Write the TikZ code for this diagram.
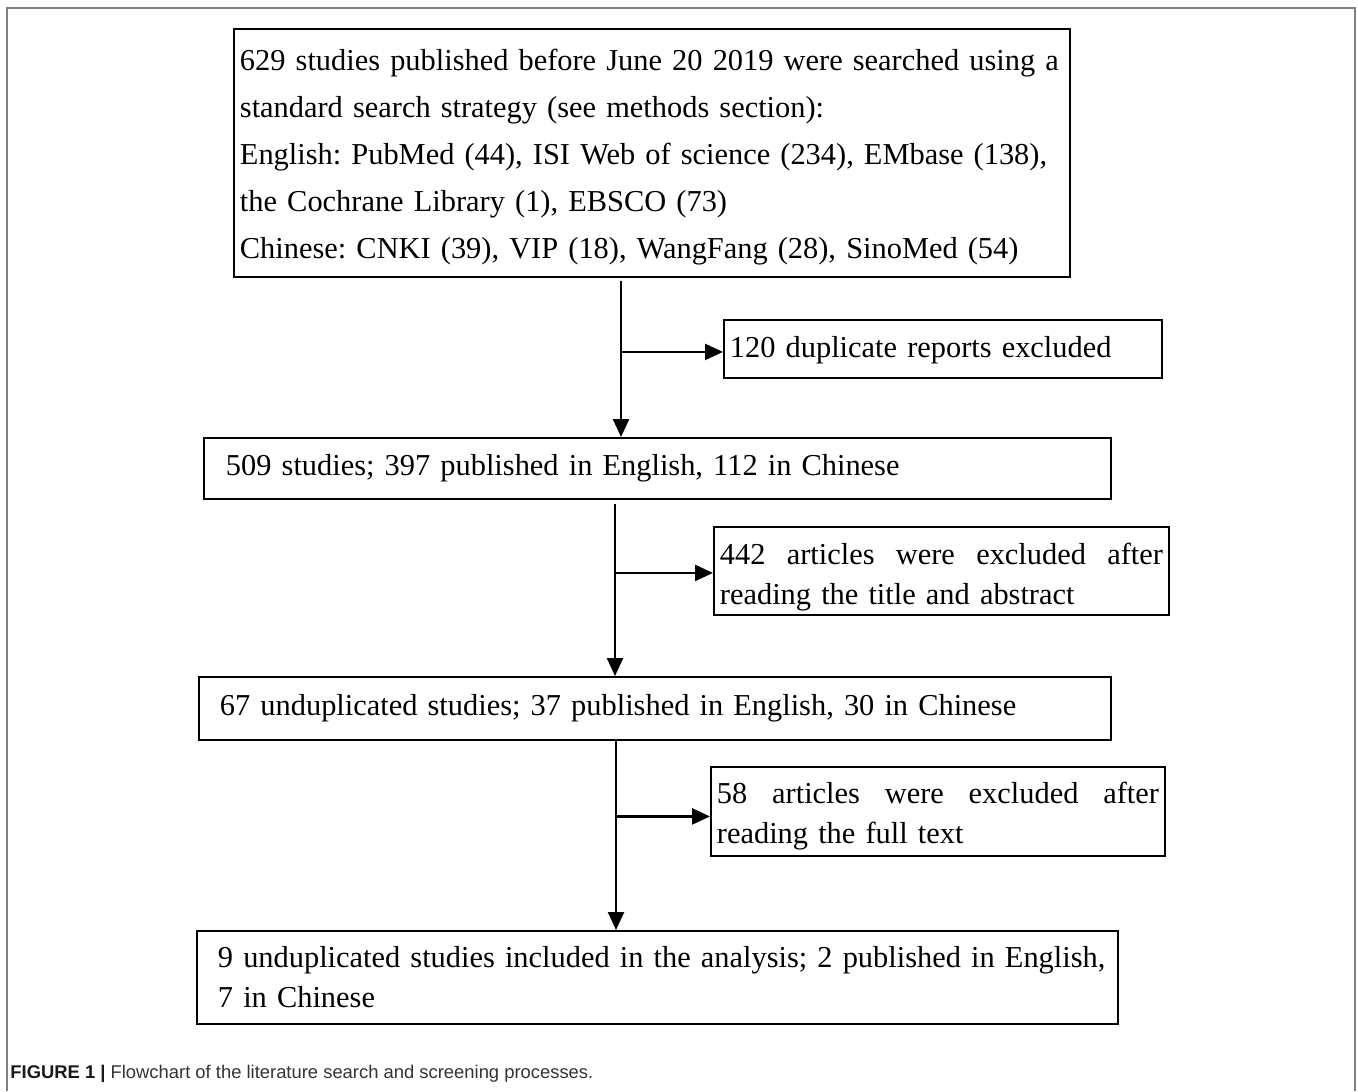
\documentclass[tikz,border=0pt]{standalone}
\usepackage{fontspec}
\setmainfont{Liberation Serif}
\setsansfont{Liberation Sans}
\usetikzlibrary{arrows.meta}
\frenchspacing
\begin{document}
\begin{tikzpicture}[x=0.5pt,y=-0.5pt,
  box/.style={draw, line width=0.95pt, anchor=north west, align=left,
    inner ysep=0pt, inner xsep=3pt, font=\frenchspacing\fontsize{15.2}{20}\selectfont},
  arr/.style={line width=1.2pt, -{Triangle[length=9pt,width=8pt]}},
  frame/.style={draw=black!50, line width=1pt}]
\useasboundingbox (0,0) rectangle (1358,1091);
\draw[frame] (7,1091) -- (7,8) -- (1355,8) -- (1355,1091);

\node[box, text width=412pt, minimum height=124pt,
  font=\frenchspacing\fontsize{15.2}{23.5}\selectfont] (b1) at (233,28)
  {\rule{0pt}{15pt}\mbox{629 studies published before June 20 2019 were searched using a}\\
   \mbox{standard search strategy (see methods section):}\\
   \mbox{English: PubMed (44), ISI Web of science (234), EMbase (138),}\\
   \mbox{the Cochrane Library (1), EBSCO (73)}\\
   \mbox{Chinese: CNKI (39), VIP (18), WangFang (28), SinoMed (54)}};

\node[box, text width=213pt, minimum height=29pt] (b2) at (723,319)
  {\rule{0pt}{12pt}\mbox{120 duplicate reports excluded}};

\node[box, text width=447.5pt, minimum height=30.5pt] (b3) at (203,437)
  {\hspace*{8pt}\mbox{509 studies; 397 published in English, 112 in Chinese}};

\node[box, text width=221.5pt, minimum height=44pt] (b4) at (713,526)
  {\rule{0pt}{16.5pt}\makebox[221.5pt][s]{442\hfill articles\hfill were\hfill excluded\hfill after}\\
   \mbox{reading the title and abstract}};

\node[box, text width=450pt, minimum height=31.5pt] (b5) at (198,676)
  {\hspace*{7.5pt}\mbox{67 unduplicated studies; 37 published in English, 30 in Chinese}};

\node[box, text width=221pt, minimum height=44.5pt] (b6) at (710,766)
  {\rule{0pt}{15.5pt}\makebox[221pt][s]{58\hfill articles\hfill were\hfill excluded\hfill after}\\
   \mbox{reading the full text}};

\node[box, text width=454.5pt, minimum height=46.5pt] (b7) at (196,930)
  {\hspace*{7.5pt}\mbox{9 unduplicated studies included in the analysis; 2 published in English,}\\
   \hspace*{7.5pt}\mbox{7 in Chinese}};

\coordinate (v1) at (621,0);
\coordinate (v2) at (615,0);
\coordinate (v3) at (616,0);
\draw[arr, shorten <=1.5pt] (b1.south -| v1) -- (b3.north -| v1);
\draw[arr] ([yshift=-1.5pt]b2.west -| v1) -- ([yshift=-1.5pt]b2.west);
\draw[arr, shorten <=2pt] (b3.south -| v2) -- (b5.north -| v2);
\draw[arr] ([yshift=-1pt]b4.west -| v2) -- ([yshift=-1pt]b4.west);
\draw[arr] (b5.south -| v3) -- (b7.north -| v3);
\draw[arr] ([yshift=-2.5pt]b6.west -| v3) -- ([yshift=-2.5pt]b6.west);

\node[anchor=base west, inner sep=0pt, text=black!80,
  font=\sffamily\fontsize{9.2}{11}\selectfont] (cap) at (10,1078)
  {\textbf{\color{black!90}FIGURE 1 |} Flowchart of the literature search and screening processes.};
\end{tikzpicture}
\end{document}
